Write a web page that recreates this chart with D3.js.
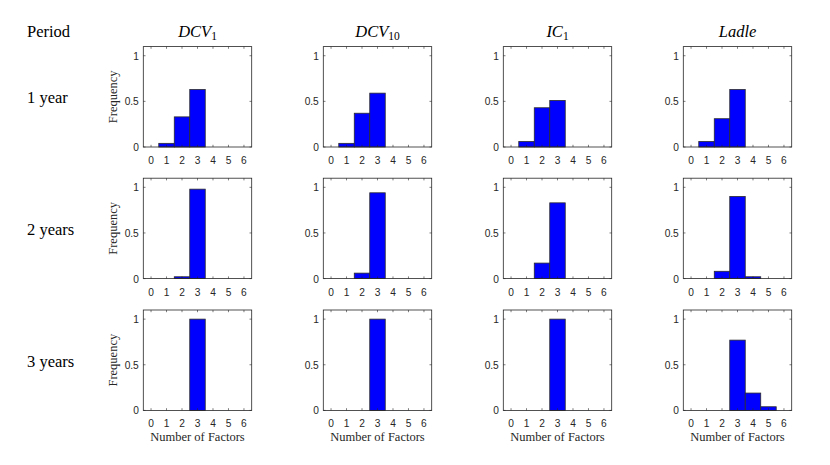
<!DOCTYPE html>
<html>
<head>
<meta charset="utf-8">
<script src="https://cdn.jsdelivr.net/npm/d3@7/dist/d3.min.js"></script>
<style>
  body { margin: 0; background: #fff; }
  svg { display: block; }
</style>
</head>
<body>
<svg id="chart" width="830" height="465"></svg>
<script>
// ---- data ----
const periods = ["1 year", "2 years", "3 years"];
const methodNames = ["DCV", "DCV", "IC", "Ladle"];
const methodSubs = ["1", "10", "1", ""];
const bins = [0, 1, 2, 3, 4, 5, 6];
const yTicks = [0, 0.5, 1];
const xTicks = [0, 1, 2, 3, 4, 5, 6];
// frequency per bin (rows = periods)
const dcv1  = [[0, 0.04, 0.33, 0.63, 0, 0, 0], [0, 0, 0.02, 0.98, 0, 0, 0], [0, 0, 0, 1, 0, 0, 0]];
const dcv10 = [[0, 0.04, 0.37, 0.59, 0, 0, 0], [0, 0, 0.06, 0.94, 0, 0, 0], [0, 0, 0, 1, 0, 0, 0]];
const ic1   = [[0, 0.06, 0.43, 0.51, 0, 0, 0], [0, 0, 0.17, 0.83, 0, 0, 0], [0, 0, 0, 1, 0, 0, 0]];
const ladle = [[0, 0.06, 0.31, 0.63, 0, 0, 0], [0, 0, 0.08, 0.90, 0.02, 0, 0], [0, 0, 0, 0.77, 0.19, 0.04, 0]];
const seriesByMethod = [dcv1, dcv10, ic1, ladle];

// ---- layout ----
const colLeft = [143.3, 323.3, 503.3, 683.3];
const rowTop = [46.6, 178.2, 310];
const pw = 108.4, ph = 100.4;
const axisColor = "#262626";
const serif = "'Liberation Serif', 'DejaVu Serif', serif";
const sans = "'Liberation Sans', Arial, Helvetica, sans-serif";

const svg = d3.select("#chart");

const x = d3.scaleLinear().domain([-0.5, 6.5]).range([0, pw]);
const y = d3.scaleLinear().domain([0, 1.1]).range([ph, 0]);

// header
svg.append("text").attr("x", 27).attr("y", 36.5)
  .attr("font-family", serif).attr("font-size", 16.5).attr("fill", "#000")
  .text("Period");

methodNames.forEach((name, c) => {
  const t = svg.append("text")
    .attr("x", colLeft[c] + pw / 2).attr("y", 36.5)
    .attr("text-anchor", "middle")
    .attr("font-family", serif).attr("font-size", 16.5).attr("fill", "#000");
  t.append("tspan").attr("font-style", "italic").text(name);
  if (methodSubs[c]) {
    t.append("tspan").attr("font-size", 11.5).attr("dy", 3).text(methodSubs[c]);
  }
});

periods.forEach((p, r) => {
  svg.append("text").attr("x", 27).attr("y", rowTop[r] + ph / 2 + 6.5)
    .attr("font-family", serif).attr("font-size", 16.5).attr("fill", "#000")
    .text(p);
});

const tickLen = 2.2;

periods.forEach((p, r) => {
  methodNames.forEach((m, c) => {
    const g = svg.append("g").attr("transform", `translate(${colLeft[c]},${rowTop[r]})`);
    const vals = seriesByMethod[c][r];

    // background
    g.append("rect").attr("width", pw).attr("height", ph).attr("fill", "#fff");

    // bars
    g.selectAll("rect.bar").data(bins).enter().append("rect")
      .attr("class", "bar")
      .attr("x", d => x(d - 0.5))
      .attr("width", d => x(d + 0.5) - x(d - 0.5))
      .attr("y", (d, i) => y(vals[i]))
      .attr("height", (d, i) => y(0) - y(vals[i]))
      .attr("fill", "#0000ff")
      .attr("stroke", "#2b2b2b")
      .attr("stroke-width", 0.8);

    // ticks (inside, all four sides)
    const tk = g.append("g").attr("stroke", axisColor).attr("stroke-width", 0.6);
    xTicks.forEach(t => {
      tk.append("line").attr("x1", x(t)).attr("x2", x(t)).attr("y1", ph).attr("y2", ph - tickLen);
      tk.append("line").attr("x1", x(t)).attr("x2", x(t)).attr("y1", 0).attr("y2", tickLen);
    });
    yTicks.forEach(t => {
      tk.append("line").attr("x1", 0).attr("x2", tickLen).attr("y1", y(t)).attr("y2", y(t));
      tk.append("line").attr("x1", pw).attr("x2", pw - tickLen).attr("y1", y(t)).attr("y2", y(t));
    });

    // box
    g.append("rect").attr("width", pw).attr("height", ph)
      .attr("fill", "none").attr("stroke", axisColor).attr("stroke-width", 0.8);

    // tick labels
    g.selectAll("text.xt").data(xTicks).enter().append("text")
      .attr("class", "xt")
      .attr("x", d => x(d)).attr("y", ph + 17)
      .attr("text-anchor", "middle")
      .attr("font-family", sans).attr("font-size", 10.2).attr("fill", "#262626")
      .text(d => d);
    g.selectAll("text.yt").data(yTicks).enter().append("text")
      .attr("class", "yt")
      .attr("x", -4.5).attr("y", d => y(d) + 4)
      .attr("text-anchor", "end")
      .attr("font-family", sans).attr("font-size", 10.2).attr("fill", "#262626")
      .text(d => d);

    if (c === 0) {
      g.append("text")
        .attr("transform", `translate(-26.5,${ph / 2}) rotate(-90)`)
        .attr("text-anchor", "middle")
        .attr("font-family", serif).attr("font-size", 12.5).attr("fill", "#262626")
        .text("Frequency");
    }
    if (r === periods.length - 1) {
      g.append("text")
        .attr("x", pw / 2).attr("y", ph + 30.5)
        .attr("text-anchor", "middle")
        .attr("font-family", serif).attr("font-size", 12.5).attr("fill", "#262626")
        .text("Number of Factors");
    }
  });
});
</script>
</body>
</html>
